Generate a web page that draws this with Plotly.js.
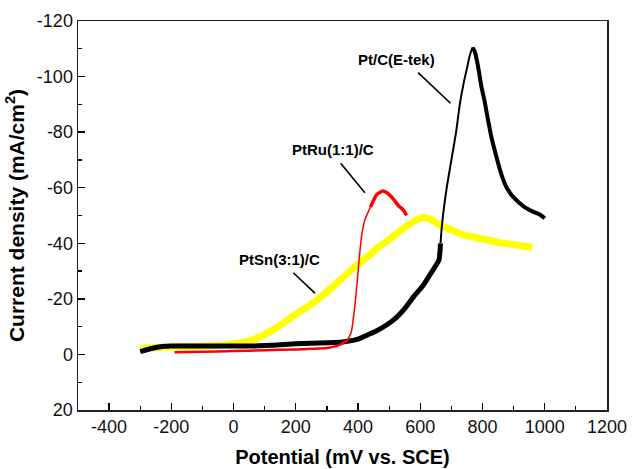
<!DOCTYPE html>
<html>
<head>
<meta charset="utf-8">
<script src="https://cdn.plot.ly/plotly-3.0.1.min.js"></script>
<style>html,body{margin:0;padding:0;background:#fff;}#chart{width:632px;height:469px;}</style>
</head>
<body>
<div id="chart"></div>
<script>
// Pt/C (E-tek) — black
const ptcX = [-300,-250,-200,-150,-100,-50,0,50,100,150,200,250,300,350,400,430,460,490,520,550,580,610,630,650,660,665,670,685,700,715,727,740,750,760,768,775,785,797,806,815,829,845,856,866,880,900,935,960,985,1000];
const ptcY = [-1,-2.5,-3,-3,-3,-3,-3,-3,-3.2,-3.5,-3.8,-4,-4.2,-4.5,-5.5,-7,-8.5,-10.5,-13,-16.5,-21,-25,-28.5,-32,-34,-40,-47,-60,-70,-80,-90,-98,-103,-108,-110.5,-109,-104,-96,-91.5,-86,-78,-71,-66.5,-63,-59.5,-56.5,-53,-51.5,-50.3,-49];
// PtRu(1:1)/C — red
const ptruX = [-190,-100,0,100,200,250,300,330,350,365,378,385,392,398,405,412,422,440,460,480,495,513,530,545,556];
const ptruY = [-0.8,-1,-1.2,-1.5,-1.8,-2,-2.3,-3,-4,-5,-8,-13,-20,-27,-36,-43,-48.5,-53,-57.5,-58.8,-58,-56,-53.5,-52,-50];
// PtSn(3:1)/C — yellow
const ptsnX = [-300,-250,-200,-150,-100,-50,0,50,100,150,200,250,300,350,400,440,470,502,530,567,590,609,630,660,700,740,780,824,850,900,930,960];
const ptsnY = [-2,-2.5,-2.7,-2.8,-3,-3.3,-3.8,-4.8,-7.2,-10.5,-14.5,-18,-22.5,-27.5,-32.5,-36,-39,-41.5,-44,-47,-48.5,-49.3,-48.7,-46.8,-44.8,-43,-42,-41,-40.3,-39.5,-39,-38.6];

const xTickVals = [-400,-200,0,200,400,600,800,1000,1200];
const xTickText = ["-400","-200","0","200","400","600","800","1000","1200"];
const yTickVals = [-120,-100,-80,-60,-40,-20,0,20];
const yTickText = ["-120","-100","-80","-60","-40","-20","0","20"];

const labels = [
  {text:"Pt/C(E-tek)", x:522, y:-106.2, lx0:593, ly0:-101.4, lx1:697, ly1:-90.4},
  {text:"PtRu(1:1)/C", x:318, y:-73.6, lx0:344, ly0:-68.8, lx1:422, ly1:-58.2},
  {text:"PtSn(3:1)/C", x:146, y:-34, lx0:192, ly0:-29.4, lx1:262, ly1:-22}
];

function seg(xs, ys, lo, hi){
  const ox=[], oy=[];
  for(let i=0;i<xs.length;i++){ if(xs[i]>=lo && xs[i]<=hi){ox.push(xs[i]);oy.push(ys[i]);} }
  return {x:ox, y:oy};
}
function tr(s, color, width){
  return {x:s.x, y:s.y, type:'scatter', mode:'lines', line:{color:color, width:width, shape:'spline', smoothing:0.6}, hoverinfo:'skip', showlegend:false};
}

const traces = [
  tr(seg(ptsnX, ptsnY, -400, 1100), '#ffff00', 7),
  tr(seg(ptcX, ptcY, -400, 665), '#000000', 5),
  tr(seg(ptcX, ptcY, 665, 768), '#000000', 2),
  tr(seg(ptcX, ptcY, 768, 1100), '#000000', 4),
  tr(seg(ptruX, ptruY, -400, 365), '#ff0000', 2.5),
  tr(seg(ptruX, ptruY, 365, 440), '#ff0000', 1.5),
  tr(seg(ptruX, ptruY, 440, 1100), '#ff0000', 3.5)
];

const font = "Liberation Sans, Arial, Helvetica, sans-serif";
const layout = {
  width:632, height:469,
  margin:{l:78, r:25, t:21, b:59},
  paper_bgcolor:'#fff', plot_bgcolor:'#fff',
  showlegend:false,
  font:{family:font, color:'#000'},
  xaxis:{
    range:[-500,1200], tickmode:'array', tickvals:xTickVals, ticktext:xTickText,
    ticks:'inside', ticklen:7, tickwidth:1.3, tickcolor:'#000',
    minor:{dtick:100, tick0:0, ticks:'inside', ticklen:4, tickwidth:1.2, tickcolor:'#000', showgrid:false},
    showgrid:false, zeroline:false, showline:true, linecolor:'#222', linewidth:1.5, mirror:true,
    tickfont:{family:font, size:18, color:'#111'},
    title:{text:'<b>Potential (mV vs. SCE)</b>', font:{family:font, size:20, color:'#000'}, standoff:14}
  },
  yaxis:{
    range:[20,-120], tickmode:'array', tickvals:yTickVals, ticktext:yTickText,
    ticks:'inside', ticklen:7, tickwidth:1.3, tickcolor:'#000',
    minor:{dtick:10, tick0:0, ticks:'inside', ticklen:4, tickwidth:1.2, tickcolor:'#000', showgrid:false},
    showgrid:false, zeroline:false, showline:true, linecolor:'#222', linewidth:1.5, mirror:true,
    tickfont:{family:font, size:18, color:'#111'},
    title:{text:'<b>Current density (mA/cm<sup>2</sup>)</b>', font:{family:font, size:21, color:'#000'}, standoff:6}
  },
  annotations: labels.map(l => ({x:l.x, y:l.y, xref:'x', yref:'y', text:'<b>'+l.text+'</b>', showarrow:false, font:{family:font, size:15, color:'#000'}})),
  shapes: labels.map(l => ({type:'line', xref:'x', yref:'y', x0:l.lx0, y0:l.ly0, x1:l.lx1, y1:l.ly1, line:{color:'#000', width:1.6}}))
};

Plotly.newPlot('chart', traces, layout, {staticPlot:true, displayModeBar:false});
</script>
</body>
</html>
